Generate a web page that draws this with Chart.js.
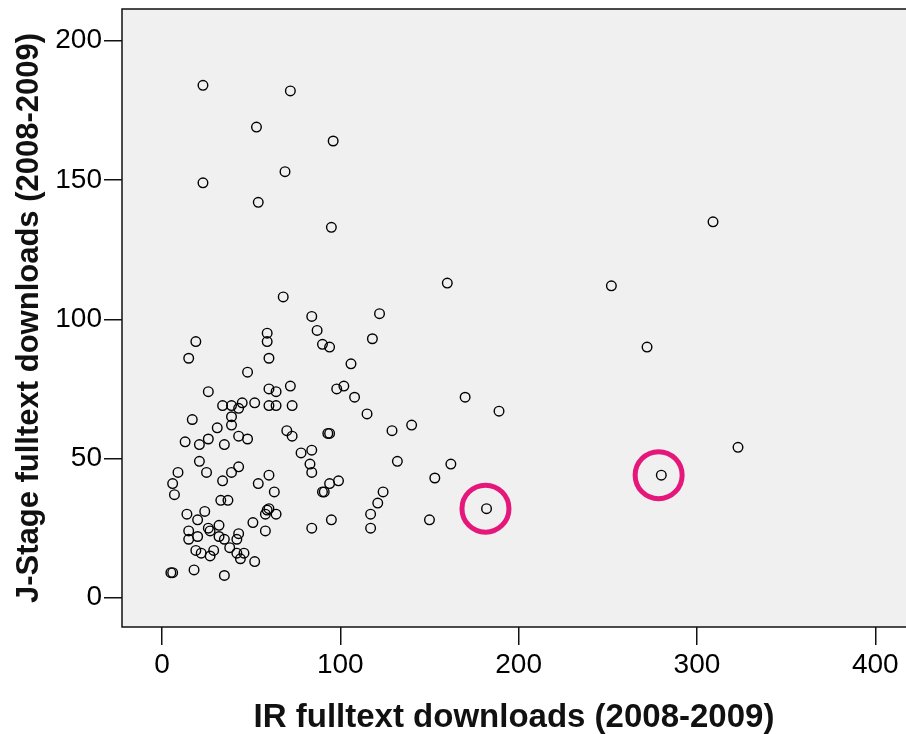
<!DOCTYPE html>
<html>
<head>
<meta charset="utf-8">
<script src="https://cdn.jsdelivr.net/npm/chart.js@4/dist/chart.umd.min.js"></script>
<style>
  html, body { margin: 0; padding: 0; background: #fff; }
  #grafik { display: block; }
</style>
</head>
<body>
<canvas id="grafik" width="906" height="734" style="width:906px;height:734px"></canvas>
<script>
// IR (x) and J-Stage (y) downloads per article
var irDownloads = [
  23, 72, 53, 96, 69, 23, 54, 95, 309, 160,
  252, 68, 84, 122, 59, 59, 19, 87, 118, 90,
  94, 272, 15, 60, 106, 48, 26, 60, 64, 72,
  102, 98, 34, 39, 45, 43, 52, 60, 64, 73,
  108, 170, 189, 115, 17, 39, 39, 140, 31, 129,
  70, 73, 93, 94, 13, 21, 26, 35, 43, 48,
  323, 78, 84, 21, 43, 83, 132, 162, 9, 25,
  39, 60, 84, 280, 153, 34, 6, 54, 94, 99,
  7, 63, 90, 91, 124, 33, 37, 121, 14, 24,
  20, 60, 59, 58, 64, 117, 182, 51, 95, 150,
  58, 26, 27, 32, 84, 117, 15, 15, 20, 32,
  35, 43, 42, 38, 19, 22, 29, 27, 42, 46,
  44, 52, 5, 6, 18, 35
];
var jstageDownloads = [
  184, 182, 169, 164, 153, 149, 142, 133, 135, 113,
  112, 108, 101, 102, 95, 92, 92, 96, 93, 91,
  90, 90, 86, 86, 84, 81, 74, 75, 74, 76,
  76, 75, 69, 69, 70, 68, 70, 69, 69, 69,
  72, 72, 67, 66, 64, 65, 62, 62, 61, 60,
  60, 58, 59, 59, 56, 55, 57, 55, 58, 57,
  54, 52, 53, 49, 47, 48, 49, 48, 45, 45,
  45, 44, 45, 44, 43, 42, 41, 41, 41, 42,
  37, 38, 38, 38, 38, 35, 35, 34, 30, 31,
  28, 32, 31.5, 30, 30, 30, 32, 27, 28, 28,
  24, 25, 24, 26, 25, 25, 24, 21, 22, 22,
  21, 23, 21, 18, 17, 16, 17, 15, 16, 16,
  14, 13, 9, 9, 10, 8
];

// the two articles ringed in pink
var highlightIR = [181.4, 278.5];
var highlightJStage = [32, 44];

var xTicks = [0, 100, 200, 300, 400];
var yTicks = [0, 50, 100, 150, 200];

var xTitle = 'IR fulltext downloads (2008-2009)';
var yTitle = 'J-Stage fulltext downloads (2008-2009)';

function pointsOf(xs, ys) {
  var list = [];
  for (var i = 0; i < xs.length; i++) {
    list.push({ x: xs[i], y: ys[i] });
  }
  return list;
}

var cerceve = {
  id: 'cerceve',
  beforeDraw: function (chart) {
    var a = chart.chartArea, ctx = chart.ctx;
    ctx.save();
    ctx.fillStyle = '#f0f0f0';
    ctx.fillRect(a.left, a.top, a.right - a.left, a.bottom - a.top);
    ctx.restore();
  },
  afterDraw: function (chart) {
    var a = chart.chartArea, ctx = chart.ctx;
    ctx.save();
    ctx.strokeStyle = '#111';
    ctx.lineWidth = 1.5;
    ctx.beginPath();
    ctx.moveTo(a.right, a.top);
    ctx.lineTo(a.left, a.top);
    ctx.lineTo(a.left, a.bottom);
    ctx.lineTo(a.right, a.bottom);
    ctx.stroke();
    ctx.restore();
  }
};

var sans = "'Liberation Sans', Arial, sans-serif";

var ctx = document.getElementById('grafik');
var grafik = new Chart(ctx, {
  type: 'scatter',
  data: {
    datasets: [{
      label: 'articles',
      data: pointsOf(irDownloads, jstageDownloads),
      pointStyle: 'circle',
      pointRadius: 4.8,
      pointBorderWidth: 1.4,
      borderColor: '#000',
      backgroundColor: 'rgba(0,0,0,0)'
    }, {
      label: 'highlight',
      data: pointsOf(highlightIR, highlightJStage),
      pointStyle: 'circle',
      pointRadius: 23.5,
      pointBorderWidth: 5,
      borderColor: '#e6177b',
      backgroundColor: 'rgba(0,0,0,0)'
    }]
  },
  options: {
    responsive: false,
    devicePixelRatio: 1,
    animation: false,
    events: [],
    layout: { autoPadding: false, padding: { top: 9, right: 0, bottom: 0, left: 0 } },
    plugins: {
      legend: { display: false },
      tooltip: { enabled: false }
    },
    scales: {
      x: {
        type: 'linear',
        min: -22.4,
        max: 417.2,
        afterFit: function (s) {
          s.height = 107;
          s.paddingLeft = 0;
          s.paddingRight = 0;
        },
        afterBuildTicks: function (s) {
          s.ticks = xTicks.map(function (v) { return { value: v }; });
        },
        border: { display: false },
        grid: { drawOnChartArea: false, drawTicks: true, tickLength: 18, color: '#111', lineWidth: 1.5 },
        ticks: { color: '#000', padding: 6, maxRotation: 0, font: { family: sans, size: 28, lineHeight: 1 } },
        title: {
          display: true,
          text: xTitle,
          color: '#111',
          font: { family: sans, size: 33, weight: 'bold', lineHeight: 1 },
          padding: { top: 0, bottom: 0 }
        }
      },
      y: {
        type: 'linear',
        min: -10.5,
        max: 211.4,
        afterFit: function (s) {
          s.width = 122;
          s.paddingTop = 0;
          s.paddingBottom = 0;
        },
        afterBuildTicks: function (s) {
          s.ticks = yTicks.map(function (v) { return { value: v }; });
        },
        border: { display: false },
        grid: { drawOnChartArea: false, drawTicks: true, tickLength: 18, color: '#111', lineWidth: 1.5 },
        ticks: { color: '#000', padding: 2, font: { family: sans, size: 28, lineHeight: 1 } },
        title: {
          display: true,
          text: yTitle,
          color: '#111',
          font: { family: sans, size: 31, weight: 'bold', lineHeight: 1 },
          padding: { top: 14, bottom: 0 }
        }
      }
    }
  },
  plugins: [cerceve]
});
</script>
</body>
</html>
